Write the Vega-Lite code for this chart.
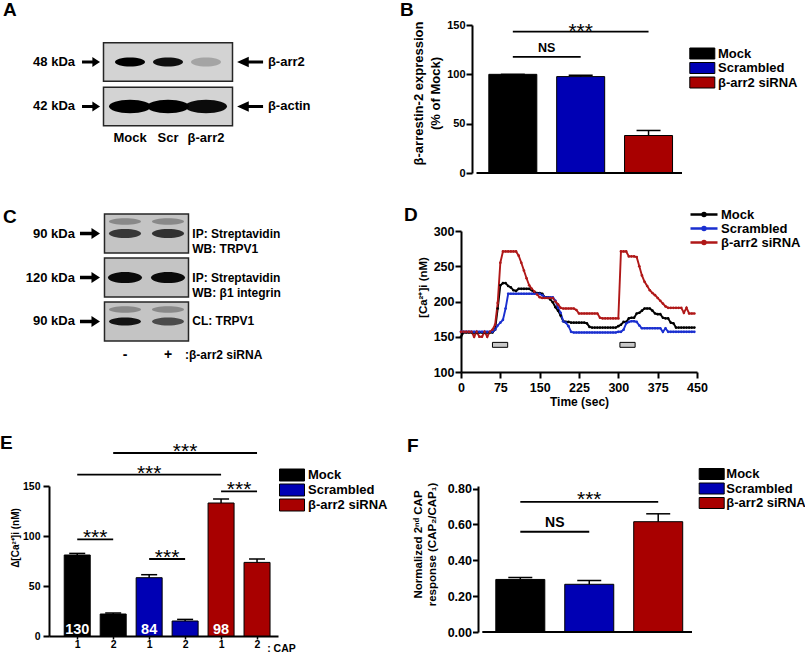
{
"$schema": "https://vega.github.io/schema/vega-lite/v6.json",
"background": "white",
"padding": {"left": 0, "top": 1, "right": 0, "bottom": 0},
"config": {
  "font": "Liberation Sans",
  "view": {"stroke": null},
  "axis": {"domainColor": "#000", "tickColor": "#000", "labelColor": "#000", "titleColor": "#000", "grid": false, "domainWidth": 2, "tickWidth": 2, "labelFlush": false, "labelOverlap": false, "titleFontWeight": "bold", "labelFontWeight": "bold"},
  "legend": {"labelColor": "#000", "padding": 0, "labelFontWeight": "bold"},
  "title": {"anchor": "start", "frame": "group", "fontSize": 19, "fontWeight": "bold", "color": "#000", "offset": 0, "baseline": "alphabetic"},
  "text": {"color": "#000", "fontWeight": "bold"}
},
"datasets": {
  "blotsA": [{"row": 1, "kda": "48 kDa", "protein": "β-arr2"}, {"row": 2, "kda": "42 kDa", "protein": "β-actin"}],
  "bandsA": [{"row": 1, "lane": 1, "intensity": 1}, {"row": 1, "lane": 2, "intensity": 0.93}, {"row": 1, "lane": 3, "intensity": 0.22}, {"row": 2, "lane": 1, "intensity": 1}, {"row": 2, "lane": 2, "intensity": 1}, {"row": 2, "lane": 3, "intensity": 0.95}],
  "lanesA": [{"lane": 1, "name": "Mock"}, {"lane": 2, "name": "Scr"}, {"lane": 3, "name": "β-arr2"}],
  "blotsC": [{"row": 1, "kda": "90 kDa", "probe": "IP:  Streptavidin\nWB:  TRPV1"}, {"row": 2, "kda": "120 kDa", "probe": "IP:  Streptavidin\nWB:  β1 integrin"}, {"row": 3, "kda": "90 kDa", "probe": "CL:  TRPV1"}],
  "bandsC": [{"row": 1, "lane": 1, "intensity": 0.72}, {"row": 1, "lane": 2, "intensity": 0.75}, {"row": 2, "lane": 1, "intensity": 0.95}, {"row": 2, "lane": 2, "intensity": 0.95}, {"row": 3, "lane": 1, "intensity": 0.9}, {"row": 3, "lane": 2, "intensity": 0.62}],
  "lanesC": [{"lane": 1, "name": "-"}, {"lane": 2, "name": "+"}],
  "barsB": [{"pos": 1, "group": "Mock", "mean": 100, "upper": 100}, {"pos": 2, "group": "Scrambled", "mean": 97.7, "upper": 99.1}, {"pos": 3, "group": "β-arr2 siRNA", "mean": 38, "upper": 43.1}],
  "sigB": [{"cmp": "b1", "pos": 1, "h": 117.6, "label": "NS"}, {"cmp": "b1", "pos": 2, "h": 117.6, "label": "NS"}, {"cmp": "b2", "pos": 1, "h": 143.2, "label": "***"}, {"cmp": "b2", "pos": 3, "h": 143.2, "label": "***"}],
  "capD": [{"start": 60, "end": 89}, {"start": 303, "end": 332}],
  "barsE": [{"pos": 1, "group": "Mock", "cap": 1, "mean": 81.0, "upper": 82.6, "n": "130"}, {"pos": 2, "group": "Mock", "cap": 2, "mean": 22.0, "upper": 23.0}, {"pos": 3, "group": "Scrambled", "cap": 1, "mean": 58.3, "upper": 61.3, "n": "84"}, {"pos": 4, "group": "Scrambled", "cap": 2, "mean": 15.0, "upper": 16.6}, {"pos": 5, "group": "β-arr2 siRNA", "cap": 1, "mean": 133.0, "upper": 137.0, "n": "98"}, {"pos": 6, "group": "β-arr2 siRNA", "cap": 2, "mean": 73.6, "upper": 77.0}],
  "sigE": [{"cmp": "e1", "pos": 2, "h": 183, "label": "***"}, {"cmp": "e1", "pos": 6, "h": 183, "label": "***"}, {"cmp": "e2", "pos": 1, "h": 161.3, "label": "***"}, {"cmp": "e2", "pos": 5, "h": 161.3, "label": "***"}, {"cmp": "e3", "pos": 5, "h": 144.6, "label": "***"}, {"cmp": "e3", "pos": 6, "h": 144.6, "label": "***"}, {"cmp": "e4", "pos": 1, "h": 96.6, "label": "***"}, {"cmp": "e4", "pos": 2, "h": 96.6, "label": "***"}, {"cmp": "e5", "pos": 3, "h": 77, "label": "***"}, {"cmp": "e5", "pos": 4, "h": 77, "label": "***"}],
  "barsF": [{"pos": 1, "group": "Mock", "mean": 0.293, "upper": 0.304}, {"pos": 2, "group": "Scrambled", "mean": 0.266, "upper": 0.287}, {"pos": 3, "group": "β-arr2 siRNA", "mean": 0.615, "upper": 0.659}],
  "sigF": [{"cmp": "f1", "pos": 1, "h": 0.559, "label": "NS"}, {"cmp": "f1", "pos": 2, "h": 0.559, "label": "NS"}, {"cmp": "f2", "pos": 1, "h": 0.726, "label": "***"}, {"cmp": "f2", "pos": 3, "h": 0.726, "label": "***"}],
  "lineD": [
{"series":"Mock","t":0,"ca":150},{"series":"Mock","t":5,"ca":156},{"series":"Mock","t":10,"ca":156},{"series":"Mock","t":15,"ca":156},{"series":"Mock","t":20,"ca":156},{"series":"Mock","t":25,"ca":156},{"series":"Mock","t":30,"ca":156},{"series":"Mock","t":35,"ca":156},{"series":"Mock","t":40,"ca":156},{"series":"Mock","t":45,"ca":156},{"series":"Mock","t":50,"ca":156},{"series":"Mock","t":55,"ca":156},{"series":"Mock","t":60,"ca":156},{"series":"Mock","t":65,"ca":160},{"series":"Mock","t":70,"ca":190},{"series":"Mock","t":75,"ca":223},{"series":"Mock","t":80,"ca":226},{"series":"Mock","t":85,"ca":226},{"series":"Mock","t":90,"ca":222},{"series":"Mock","t":95,"ca":220},{"series":"Mock","t":100,"ca":216},{"series":"Mock","t":105,"ca":215},{"series":"Mock","t":110,"ca":218},{"series":"Mock","t":115,"ca":218},{"series":"Mock","t":120,"ca":218},{"series":"Mock","t":125,"ca":218},{"series":"Mock","t":130,"ca":218},{"series":"Mock","t":135,"ca":216},{"series":"Mock","t":140,"ca":213},{"series":"Mock","t":145,"ca":212},{"series":"Mock","t":150,"ca":212},{"series":"Mock","t":155,"ca":211},{"series":"Mock","t":160,"ca":206},{"series":"Mock","t":165,"ca":206},{"series":"Mock","t":170,"ca":203},{"series":"Mock","t":175,"ca":199},{"series":"Mock","t":180,"ca":192},{"series":"Mock","t":185,"ca":187},{"series":"Mock","t":190,"ca":180},{"series":"Mock","t":195,"ca":172},{"series":"Mock","t":200,"ca":171},{"series":"Mock","t":205,"ca":171},{"series":"Mock","t":210,"ca":170},{"series":"Mock","t":215,"ca":170},{"series":"Mock","t":220,"ca":170},{"series":"Mock","t":225,"ca":170},{"series":"Mock","t":230,"ca":170},{"series":"Mock","t":235,"ca":170},{"series":"Mock","t":240,"ca":169},{"series":"Mock","t":245,"ca":164},{"series":"Mock","t":250,"ca":163},{"series":"Mock","t":255,"ca":163},{"series":"Mock","t":260,"ca":163},{"series":"Mock","t":265,"ca":163},{"series":"Mock","t":270,"ca":163},{"series":"Mock","t":275,"ca":163},{"series":"Mock","t":280,"ca":163},{"series":"Mock","t":285,"ca":163},{"series":"Mock","t":290,"ca":163},{"series":"Mock","t":295,"ca":163},{"series":"Mock","t":300,"ca":165},{"series":"Mock","t":305,"ca":167},{"series":"Mock","t":310,"ca":171},{"series":"Mock","t":315,"ca":171},{"series":"Mock","t":320,"ca":176},{"series":"Mock","t":325,"ca":177},{"series":"Mock","t":330,"ca":177},{"series":"Mock","t":335,"ca":183},{"series":"Mock","t":340,"ca":184},{"series":"Mock","t":345,"ca":187},{"series":"Mock","t":350,"ca":190},{"series":"Mock","t":355,"ca":190},{"series":"Mock","t":360,"ca":190},{"series":"Mock","t":365,"ca":187},{"series":"Mock","t":370,"ca":183},{"series":"Mock","t":375,"ca":182},{"series":"Mock","t":380,"ca":182},{"series":"Mock","t":385,"ca":177},{"series":"Mock","t":390,"ca":176},{"series":"Mock","t":395,"ca":176},{"series":"Mock","t":400,"ca":170},{"series":"Mock","t":405,"ca":169},{"series":"Mock","t":410,"ca":163},{"series":"Mock","t":415,"ca":163},{"series":"Mock","t":420,"ca":163},{"series":"Mock","t":425,"ca":163},{"series":"Mock","t":430,"ca":163},{"series":"Mock","t":435,"ca":163},{"series":"Mock","t":440,"ca":163},{"series":"Mock","t":445,"ca":163},
{"series":"Scrambled","t":0,"ca":157},{"series":"Scrambled","t":5,"ca":157},{"series":"Scrambled","t":10,"ca":157},{"series":"Scrambled","t":15,"ca":157},{"series":"Scrambled","t":20,"ca":157},{"series":"Scrambled","t":25,"ca":157},{"series":"Scrambled","t":30,"ca":157},{"series":"Scrambled","t":35,"ca":157},{"series":"Scrambled","t":40,"ca":157},{"series":"Scrambled","t":45,"ca":157},{"series":"Scrambled","t":50,"ca":157},{"series":"Scrambled","t":55,"ca":157},{"series":"Scrambled","t":60,"ca":157},{"series":"Scrambled","t":65,"ca":160},{"series":"Scrambled","t":70,"ca":166},{"series":"Scrambled","t":75,"ca":170},{"series":"Scrambled","t":80,"ca":174},{"series":"Scrambled","t":85,"ca":190},{"series":"Scrambled","t":90,"ca":211},{"series":"Scrambled","t":95,"ca":211},{"series":"Scrambled","t":100,"ca":211},{"series":"Scrambled","t":105,"ca":211},{"series":"Scrambled","t":110,"ca":211},{"series":"Scrambled","t":115,"ca":211},{"series":"Scrambled","t":120,"ca":211},{"series":"Scrambled","t":125,"ca":211},{"series":"Scrambled","t":130,"ca":211},{"series":"Scrambled","t":135,"ca":211},{"series":"Scrambled","t":140,"ca":211},{"series":"Scrambled","t":145,"ca":211},{"series":"Scrambled","t":150,"ca":211},{"series":"Scrambled","t":155,"ca":209},{"series":"Scrambled","t":160,"ca":206},{"series":"Scrambled","t":165,"ca":206},{"series":"Scrambled","t":170,"ca":206},{"series":"Scrambled","t":175,"ca":206},{"series":"Scrambled","t":180,"ca":201},{"series":"Scrambled","t":185,"ca":191},{"series":"Scrambled","t":190,"ca":184},{"series":"Scrambled","t":195,"ca":172},{"series":"Scrambled","t":200,"ca":170},{"series":"Scrambled","t":205,"ca":165},{"series":"Scrambled","t":210,"ca":157},{"series":"Scrambled","t":215,"ca":156},{"series":"Scrambled","t":220,"ca":156},{"series":"Scrambled","t":225,"ca":156},{"series":"Scrambled","t":230,"ca":156},{"series":"Scrambled","t":235,"ca":156},{"series":"Scrambled","t":240,"ca":156},{"series":"Scrambled","t":245,"ca":156},{"series":"Scrambled","t":250,"ca":156},{"series":"Scrambled","t":255,"ca":156},{"series":"Scrambled","t":260,"ca":156},{"series":"Scrambled","t":265,"ca":156},{"series":"Scrambled","t":270,"ca":156},{"series":"Scrambled","t":275,"ca":156},{"series":"Scrambled","t":280,"ca":156},{"series":"Scrambled","t":285,"ca":156},{"series":"Scrambled","t":290,"ca":156},{"series":"Scrambled","t":295,"ca":156},{"series":"Scrambled","t":300,"ca":157},{"series":"Scrambled","t":305,"ca":157},{"series":"Scrambled","t":310,"ca":160},{"series":"Scrambled","t":315,"ca":169},{"series":"Scrambled","t":320,"ca":171},{"series":"Scrambled","t":325,"ca":172},{"series":"Scrambled","t":330,"ca":172},{"series":"Scrambled","t":335,"ca":171},{"series":"Scrambled","t":340,"ca":166},{"series":"Scrambled","t":345,"ca":162},{"series":"Scrambled","t":350,"ca":162},{"series":"Scrambled","t":355,"ca":162},{"series":"Scrambled","t":360,"ca":162},{"series":"Scrambled","t":365,"ca":162},{"series":"Scrambled","t":370,"ca":162},{"series":"Scrambled","t":375,"ca":162},{"series":"Scrambled","t":380,"ca":162},{"series":"Scrambled","t":385,"ca":157},{"series":"Scrambled","t":390,"ca":162},{"series":"Scrambled","t":395,"ca":157},{"series":"Scrambled","t":400,"ca":157},{"series":"Scrambled","t":405,"ca":157},{"series":"Scrambled","t":410,"ca":157},{"series":"Scrambled","t":415,"ca":157},{"series":"Scrambled","t":420,"ca":157},{"series":"Scrambled","t":425,"ca":157},{"series":"Scrambled","t":430,"ca":157},{"series":"Scrambled","t":435,"ca":157},{"series":"Scrambled","t":440,"ca":157},{"series":"Scrambled","t":445,"ca":157},
{"series":"β-arr2 siRNA","t":0,"ca":157},{"series":"β-arr2 siRNA","t":5,"ca":157},{"series":"β-arr2 siRNA","t":10,"ca":157},{"series":"β-arr2 siRNA","t":15,"ca":157},{"series":"β-arr2 siRNA","t":20,"ca":157},{"series":"β-arr2 siRNA","t":25,"ca":150},{"series":"β-arr2 siRNA","t":30,"ca":157},{"series":"β-arr2 siRNA","t":35,"ca":150},{"series":"β-arr2 siRNA","t":40,"ca":150},{"series":"β-arr2 siRNA","t":45,"ca":157},{"series":"β-arr2 siRNA","t":50,"ca":150},{"series":"β-arr2 siRNA","t":55,"ca":157},{"series":"β-arr2 siRNA","t":60,"ca":160},{"series":"β-arr2 siRNA","t":65,"ca":167},{"series":"β-arr2 siRNA","t":70,"ca":198},{"series":"β-arr2 siRNA","t":75,"ca":255},{"series":"β-arr2 siRNA","t":80,"ca":271},{"series":"β-arr2 siRNA","t":85,"ca":271},{"series":"β-arr2 siRNA","t":90,"ca":271},{"series":"β-arr2 siRNA","t":95,"ca":271},{"series":"β-arr2 siRNA","t":100,"ca":271},{"series":"β-arr2 siRNA","t":105,"ca":271},{"series":"β-arr2 siRNA","t":110,"ca":265},{"series":"β-arr2 siRNA","t":115,"ca":255},{"series":"β-arr2 siRNA","t":120,"ca":244},{"series":"β-arr2 siRNA","t":125,"ca":233},{"series":"β-arr2 siRNA","t":130,"ca":223},{"series":"β-arr2 siRNA","t":135,"ca":218},{"series":"β-arr2 siRNA","t":140,"ca":214},{"series":"β-arr2 siRNA","t":145,"ca":210},{"series":"β-arr2 siRNA","t":150,"ca":206},{"series":"β-arr2 siRNA","t":155,"ca":205},{"series":"β-arr2 siRNA","t":160,"ca":205},{"series":"β-arr2 siRNA","t":165,"ca":205},{"series":"β-arr2 siRNA","t":170,"ca":205},{"series":"β-arr2 siRNA","t":175,"ca":205},{"series":"β-arr2 siRNA","t":180,"ca":200},{"series":"β-arr2 siRNA","t":185,"ca":196},{"series":"β-arr2 siRNA","t":190,"ca":191},{"series":"β-arr2 siRNA","t":195,"ca":190},{"series":"β-arr2 siRNA","t":200,"ca":190},{"series":"β-arr2 siRNA","t":205,"ca":190},{"series":"β-arr2 siRNA","t":210,"ca":190},{"series":"β-arr2 siRNA","t":215,"ca":190},{"series":"β-arr2 siRNA","t":220,"ca":188},{"series":"β-arr2 siRNA","t":225,"ca":183},{"series":"β-arr2 siRNA","t":230,"ca":183},{"series":"β-arr2 siRNA","t":235,"ca":183},{"series":"β-arr2 siRNA","t":240,"ca":183},{"series":"β-arr2 siRNA","t":245,"ca":183},{"series":"β-arr2 siRNA","t":250,"ca":183},{"series":"β-arr2 siRNA","t":255,"ca":183},{"series":"β-arr2 siRNA","t":260,"ca":183},{"series":"β-arr2 siRNA","t":265,"ca":177},{"series":"β-arr2 siRNA","t":270,"ca":176},{"series":"β-arr2 siRNA","t":275,"ca":176},{"series":"β-arr2 siRNA","t":280,"ca":176},{"series":"β-arr2 siRNA","t":285,"ca":176},{"series":"β-arr2 siRNA","t":290,"ca":176},{"series":"β-arr2 siRNA","t":295,"ca":176},{"series":"β-arr2 siRNA","t":300,"ca":176},{"series":"β-arr2 siRNA","t":305,"ca":271},{"series":"β-arr2 siRNA","t":310,"ca":271},{"series":"β-arr2 siRNA","t":315,"ca":271},{"series":"β-arr2 siRNA","t":320,"ca":264},{"series":"β-arr2 siRNA","t":325,"ca":264},{"series":"β-arr2 siRNA","t":330,"ca":264},{"series":"β-arr2 siRNA","t":335,"ca":263},{"series":"β-arr2 siRNA","t":340,"ca":250},{"series":"β-arr2 siRNA","t":345,"ca":237},{"series":"β-arr2 siRNA","t":350,"ca":228},{"series":"β-arr2 siRNA","t":355,"ca":222},{"series":"β-arr2 siRNA","t":360,"ca":216},{"series":"β-arr2 siRNA","t":365,"ca":212},{"series":"β-arr2 siRNA","t":370,"ca":209},{"series":"β-arr2 siRNA","t":375,"ca":205},{"series":"β-arr2 siRNA","t":380,"ca":201},{"series":"β-arr2 siRNA","t":385,"ca":197},{"series":"β-arr2 siRNA","t":390,"ca":193},{"series":"β-arr2 siRNA","t":395,"ca":191},{"series":"β-arr2 siRNA","t":400,"ca":191},{"series":"β-arr2 siRNA","t":405,"ca":191},{"series":"β-arr2 siRNA","t":410,"ca":191},{"series":"β-arr2 siRNA","t":415,"ca":191},{"series":"β-arr2 siRNA","t":420,"ca":191},{"series":"β-arr2 siRNA","t":425,"ca":184},{"series":"β-arr2 siRNA","t":430,"ca":191},{"series":"β-arr2 siRNA","t":435,"ca":183},{"series":"β-arr2 siRNA","t":440,"ca":183},{"series":"β-arr2 siRNA","t":445,"ca":183}
  ]
},
"columns": 2,
"bounds": "flush",
"align": "each",
"spacing": {"row": 0, "column": 183},
"resolve": {"scale": {"x": "independent", "y": "independent", "color": "independent", "opacity": "independent"}, "legend": {"color": "independent"}},
"concat": [
{
  "width": 229, "height": 206,
  "title": {"text": "A", "dx": -46, "dy": -1},
  "layer": [
    {"data": {"name": "blotsA"},
     "mark": {"type": "point", "shape": "M-3.225,-0.965L3.225,-0.965L3.225,0.965L-3.225,0.965Z", "size": 1600, "filled": true, "fill": "#d3d3d3", "stroke": "#262626", "strokeWidth": 1.5, "opacity": 1},
     "encoding": {
       "x": {"datum": 2, "type": "quantitative", "scale": {"domain": [-1.132, 4.895], "nice": false, "zero": false}, "axis": null},
       "y": {"field": "row", "type": "quantitative", "scale": {"domain": [0.169, 4.798], "nice": false, "zero": false, "reverse": true}, "axis": null}}},
    {"data": {"name": "bandsA"}, "transform": [{"filter": "datum.row == 1"}],
     "mark": {"type": "point", "shape": "M-1,0A1,0.3,0,1,0,1,0A1,0.3,0,1,0,-1,0Z", "size": 900, "filled": true, "fill": "#000", "strokeWidth": 0},
     "encoding": {"x": {"field": "lane", "type": "quantitative"}, "y": {"field": "row", "type": "quantitative"},
       "opacity": {"field": "intensity", "type": "quantitative", "scale": {"domain": [0, 1], "range": [0, 1]}, "legend": null}}},
    {"data": {"name": "bandsA"}, "transform": [{"filter": "datum.row == 2"}],
     "mark": {"type": "point", "shape": "M-1,0A1,0.32,0,1,0,1,0A1,0.32,0,1,0,-1,0Z", "size": 1764, "filled": true, "fill": "#000", "strokeWidth": 0},
     "encoding": {"x": {"field": "lane", "type": "quantitative"}, "y": {"field": "row", "type": "quantitative"},
       "opacity": {"field": "intensity", "type": "quantitative", "legend": null}}},
    {"data": {"name": "blotsA"},
     "mark": {"type": "point", "shape": "M-1,-0.17L0.15,-0.17L0.15,-0.55L1,0L0.15,0.55L0.15,0.17L-1,0.17Z", "size": 324, "filled": true, "fill": "#000", "opacity": 1},
     "encoding": {"x": {"datum": -0.026, "type": "quantitative"}, "y": {"field": "row", "type": "quantitative"}}},
    {"data": {"name": "blotsA"},
     "mark": {"type": "point", "shape": "M1,-0.12L-0.1,-0.12L-0.1,-0.4L-1,0L-0.1,0.4L-0.1,0.12L1,0.12Z", "size": 676, "filled": true, "fill": "#000", "opacity": 1},
     "encoding": {"x": {"datum": 4.16, "type": "quantitative"}, "y": {"field": "row", "type": "quantitative"}}},
    {"data": {"name": "blotsA"},
     "mark": {"type": "text", "align": "right", "baseline": "middle", "fontSize": 13},
     "encoding": {"x": {"datum": -0.447, "type": "quantitative"}, "y": {"field": "row", "type": "quantitative"}, "text": {"field": "kda"}}},
    {"data": {"name": "blotsA"},
     "mark": {"type": "text", "align": "left", "baseline": "middle", "fontSize": 13},
     "encoding": {"x": {"datum": 4.63, "type": "quantitative"}, "y": {"field": "row", "type": "quantitative"}, "text": {"field": "protein"}}},
    {"data": {"name": "lanesA"},
     "mark": {"type": "text", "align": "center", "baseline": "middle", "fontSize": 13},
     "encoding": {"x": {"field": "lane", "type": "quantitative"}, "y": {"datum": 2.708, "type": "quantitative"}, "text": {"field": "name"}}}
  ]
},
{
  "width": 226, "height": 148,
  "title": {"text": "B", "dx": -61, "dy": 5},
  "layer": [
    {"data": {"name": "barsB"},
     "mark": {"type": "bar", "width": 48, "stroke": "#000", "strokeWidth": 1, "orient": "vertical"},
     "encoding": {
       "x": {"field": "pos", "type": "quantitative", "scale": {"domain": [0.31, 3.493], "nice": false, "zero": false}, "axis": null},
       "y": {"field": "mean", "type": "quantitative", "stack": null, "scale": {"domain": [0, 150], "nice": false},
             "axis": {"values": [0, 50, 100, 150], "tickCount": 20, "labelOverlap": false, "offset": -11, "title": ["β-arrestin-2 expression", "(% of Mock)"], "titleY": 68, "titleFontSize": 13, "titleLineHeight": 17, "titlePadding": 4, "labelFontSize": 11, "labelPadding": 1, "tickSize": 6}},
       "color": {"field": "group", "type": "nominal", "scale": {"domain": ["Mock", "Scrambled", "β-arr2 siRNA"], "range": ["#000000", "#0000b4", "#a80000"]},
                 "legend": {"orient": "none", "legendX": 234.8, "legendY": 22, "title": null, "symbolType": "M-2.5,-1.1L2.5,-1.1L2.5,1.1L-2.5,1.1Z", "symbolSize": 100, "symbolStrokeColor": "#000", "symbolStrokeWidth": 1, "labelFontSize": 13, "labelOffset": 9.2, "rowPadding": -0.5}}}},
    {"data": {"name": "barsB"}, "mark": {"type": "rule", "color": "#000", "strokeWidth": 1.5},
     "encoding": {"x": {"field": "pos", "type": "quantitative"}, "y": {"field": "mean", "type": "quantitative"}, "y2": {"field": "upper"}}},
    {"data": {"name": "barsB"}, "mark": {"type": "tick", "orient": "horizontal", "size": 24, "thickness": 1.5, "color": "#000", "opacity": 1},
     "encoding": {"x": {"field": "pos", "type": "quantitative"}, "y": {"field": "upper", "type": "quantitative"}}},
    {"data": {"values": [{}]}, "mark": {"type": "rule", "color": "#000", "strokeWidth": 2},
     "encoding": {"x": {"datum": 0.465, "type": "quantitative"}, "x2": {"datum": 3.493}, "y": {"datum": 0, "type": "quantitative"}}},
    {"data": {"name": "sigB"}, "mark": {"type": "rule", "color": "#000", "strokeWidth": 1.8},
     "encoding": {"x": {"aggregate": "min", "field": "pos", "type": "quantitative"}, "x2": {"aggregate": "max", "field": "pos"}, "y": {"field": "h", "type": "quantitative"}, "detail": {"field": "cmp"}}},
    {"data": {"name": "sigB"}, "transform": [{"filter": "datum.label == '***'"}], "mark": {"type": "text", "fontSize": 21, "fontWeight": "normal", "baseline": "alphabetic", "dy": 6.5},
     "encoding": {"x": {"aggregate": "mean", "field": "pos", "type": "quantitative"}, "y": {"field": "h", "type": "quantitative"}, "text": {"field": "label"}}},
    {"data": {"name": "sigB"}, "transform": [{"filter": "datum.label == 'NS'"}], "mark": {"type": "text", "fontSize": 12.5, "baseline": "alphabetic", "dy": -4.7},
     "encoding": {"x": {"aggregate": "mean", "field": "pos", "type": "quantitative"}, "y": {"field": "h", "type": "quantitative"}, "text": {"field": "label"}}}
  ]
},
{
  "width": 229, "height": 255,
  "title": {"text": "C", "dx": -46, "dy": 20},
  "layer": [
    {"data": {"name": "blotsC"},
     "mark": {"type": "point", "shape": "M-2.1,-0.975L2.1,-0.975L2.1,0.975L-2.1,0.975Z", "size": 1600, "filled": true, "fill": "#c4c4c4", "stroke": "#262626", "strokeWidth": 1.5, "opacity": 1},
     "encoding": {
       "x": {"datum": 1.5, "type": "quantitative", "scale": {"domain": [-0.767, 4.558], "nice": false, "zero": false}, "axis": null},
       "y": {"field": "row", "type": "quantitative", "scale": {"domain": [0.943, 6.739], "nice": false, "zero": false, "reverse": true}, "axis": null}}},
    {"data": {"name": "bandsC"}, "transform": [{"filter": "datum.row != 2"}],
     "mark": {"type": "point", "shape": "M-1,0A1,0.2,0,1,0,1,0A1,0.2,0,1,0,-1,0Z", "size": 1024, "filled": true, "fill": "#000", "strokeWidth": 0, "opacity": 0.3, "yOffset": -12},
     "encoding": {"x": {"field": "lane", "type": "quantitative"}, "y": {"field": "row", "type": "quantitative"}}},
    {"data": {"name": "bandsC"}, "transform": [{"filter": "datum.row == 1"}],
     "mark": {"type": "point", "shape": "M-1,0A1,0.28,0,1,0,1,0A1,0.28,0,1,0,-1,0Z", "size": 1024, "filled": true, "fill": "#000", "strokeWidth": 0},
     "encoding": {"x": {"field": "lane", "type": "quantitative"}, "y": {"field": "row", "type": "quantitative"},
       "opacity": {"field": "intensity", "type": "quantitative", "scale": {"domain": [0, 1], "range": [0, 1]}, "legend": null}}},
    {"data": {"name": "bandsC"}, "transform": [{"filter": "datum.row == 2"}],
     "mark": {"type": "point", "shape": "M-1,0A1,0.33,0,1,0,1,0A1,0.33,0,1,0,-1,0Z", "size": 1156, "filled": true, "fill": "#000", "strokeWidth": 0},
     "encoding": {"x": {"field": "lane", "type": "quantitative"}, "y": {"field": "row", "type": "quantitative"},
       "opacity": {"field": "intensity", "type": "quantitative", "legend": null}}},
    {"data": {"name": "bandsC"}, "transform": [{"filter": "datum.row == 3"}],
     "mark": {"type": "point", "shape": "M-1,0A1,0.25,0,1,0,1,0A1,0.25,0,1,0,-1,0Z", "size": 1024, "filled": true, "fill": "#000", "strokeWidth": 0},
     "encoding": {"x": {"field": "lane", "type": "quantitative"}, "y": {"field": "row", "type": "quantitative"},
       "opacity": {"field": "intensity", "type": "quantitative", "legend": null}}},
    {"data": {"name": "blotsC"},
     "mark": {"type": "point", "shape": "M-1,-0.17L0.15,-0.17L0.15,-0.55L1,0L0.15,0.55L0.15,0.17L-1,0.17Z", "size": 400, "filled": true, "fill": "#000", "opacity": 1},
     "encoding": {"x": {"datum": 0.186, "type": "quantitative"}, "y": {"field": "row", "type": "quantitative"}}},
    {"data": {"name": "blotsC"},
     "mark": {"type": "text", "align": "right", "baseline": "middle", "fontSize": 13},
     "encoding": {"x": {"datum": -0.163, "type": "quantitative"}, "y": {"field": "row", "type": "quantitative"}, "text": {"field": "kda"}}},
    {"data": {"name": "blotsC"},
     "mark": {"type": "text", "align": "left", "baseline": "middle", "fontSize": 12, "lineBreak": "\n", "lineHeight": 15},
     "encoding": {"x": {"datum": 2.565, "type": "quantitative"}, "y": {"field": "row", "type": "quantitative"}, "text": {"field": "probe"}}},
    {"data": {"name": "lanesC"},
     "mark": {"type": "text", "align": "center", "baseline": "middle", "fontSize": 14},
     "encoding": {"x": {"field": "lane", "type": "quantitative"}, "y": {"datum": 3.761, "type": "quantitative"}, "text": {"field": "name"}}},
    {"data": {"values": [{"label": ":β-arr2 siRNA"}]},
     "mark": {"type": "text", "align": "left", "baseline": "middle", "fontSize": 12},
     "encoding": {"x": {"datum": 2.395, "type": "quantitative"}, "y": {"datum": 3.761, "type": "quantitative"}, "text": {"field": "label"}}}
  ]
},
{
  "width": 236, "height": 141,
  "title": {"text": "D", "dx": -57, "dy": 21},
  "layer": [
    {"data": {"name": "capD"},
     "mark": {"type": "rect", "fill": "#c8c8c8", "stroke": "#000", "strokeWidth": 1},
     "encoding": {
       "x": {"field": "start", "type": "quantitative", "scale": {"domain": [0, 450], "nice": false, "zero": false},
             "axis": {"values": [0, 75, 150, 225, 300, 375, 450], "tickCount": 20, "labelOverlap": false, "title": "Time (sec)", "titleFontSize": 12, "titlePadding": 3, "labelFontSize": 12.5, "labelPadding": 3, "tickSize": 6}},
       "x2": {"field": "end"},
       "y": {"datum": 135, "type": "quantitative", "scale": {"domain": [100, 300], "nice": false, "zero": false},
             "axis": {"values": [100, 150, 200, 250, 300], "tickCount": 20, "labelOverlap": false, "title": "[Ca²⁺]i (nM)", "titleY": 56, "titleFontSize": 11.5, "titlePadding": 5, "labelFontSize": 12.5, "labelPadding": 1, "tickSize": 6}},
       "y2": {"datum": 142}}},
    {"data": {"name": "lineD"},
     "mark": {"type": "line", "strokeWidth": 1.9},
     "encoding": {
       "x": {"field": "t", "type": "quantitative"},
       "y": {"field": "ca", "type": "quantitative"},
       "order": {"field": "t"},
       "color": {"field": "series", "type": "nominal", "scale": {"domain": ["Mock", "Scrambled", "β-arr2 siRNA"], "range": ["#000000", "#1a2fd0", "#b01818"]},
                 "legend": {"orient": "none", "legendX": 236.5, "legendY": -23, "title": null, "symbolType": "M-2.7,0L2.7,0M0.3,0A0.3,0.3,0,1,1,-0.3,0A0.3,0.3,0,1,1,0.3,0", "symbolSize": 100, "symbolStrokeWidth": 2.5, "labelFontSize": 13, "labelOffset": 10.5, "rowPadding": -1.5}}}},
    {"data": {"name": "lineD"},
     "mark": {"type": "point", "filled": true, "size": 7, "opacity": 1},
     "encoding": {
       "x": {"field": "t", "type": "quantitative"},
       "y": {"field": "ca", "type": "quantitative"},
       "color": {"field": "series", "type": "nominal"}}}
  ]
},
{
  "width": 229, "height": 150,
  "title": {"text": "E", "dx": -49, "dy": 16},
  "layer": [
    {"data": {"name": "barsE"},
     "mark": {"type": "bar", "width": 26, "stroke": "#000", "strokeWidth": 1, "orient": "vertical"},
     "encoding": {
       "x": {"field": "pos", "type": "quantitative", "scale": {"domain": [0.354, 6.444], "nice": false, "zero": false},
             "axis": {"values": [1, 2, 3, 4, 5, 6], "tickCount": 20, "labelOverlap": false, "labelExpr": "datum.value % 2 == 1 ? '1' : '2'", "title": ": CAP", "titleX": 217.7, "titleY": 15.7, "titleAlign": "left", "titleBaseline": "alphabetic", "titleFontSize": 10.5, "labelFontSize": 10.5, "labelPadding": 0, "tickSize": 3, "tickWidth": 1.5}},
       "y": {"field": "mean", "type": "quantitative", "stack": null, "scale": {"domain": [0, 150], "nice": false},
             "axis": {"values": [0, 50, 100, 150], "tickCount": 20, "labelOverlap": false, "title": "Δ[Ca²⁺]i (nM)", "titleY": 51.5, "titleFontSize": 10, "titlePadding": 2, "labelFontSize": 10.5, "labelPadding": 3, "tickSize": 6}},
       "color": {"field": "group", "type": "nominal", "scale": {"domain": ["Mock", "Scrambled", "β-arr2 siRNA"], "range": ["#000000", "#0000b4", "#a80000"]},
                 "legend": {"orient": "none", "legendX": 236.5, "legendY": -17.5, "title": null, "symbolType": "M-2.5,-1.2L2.5,-1.2L2.5,1.2L-2.5,1.2Z", "symbolSize": 100, "symbolStrokeColor": "#000", "symbolStrokeWidth": 1, "labelFontSize": 13, "labelOffset": 9.5, "rowPadding": -3}}}},
    {"data": {"name": "barsE"}, "mark": {"type": "rule", "color": "#000", "strokeWidth": 1.5},
     "encoding": {"x": {"field": "pos", "type": "quantitative"}, "y": {"field": "mean", "type": "quantitative"}, "y2": {"field": "upper"}}},
    {"data": {"name": "barsE"}, "mark": {"type": "tick", "orient": "horizontal", "size": 16, "thickness": 1.5, "color": "#000", "opacity": 1},
     "encoding": {"x": {"field": "pos", "type": "quantitative"}, "y": {"field": "upper", "type": "quantitative"}}},
    {"data": {"name": "barsE"}, "transform": [{"filter": "datum.n != null"}],
     "mark": {"type": "text", "color": "white", "fontSize": 14.5, "fontWeight": "bold", "baseline": "alphabetic", "dy": -2.5},
     "encoding": {"x": {"field": "pos", "type": "quantitative"}, "y": {"datum": 0, "type": "quantitative"}, "text": {"field": "n"}}},
    {"data": {"name": "sigE"}, "mark": {"type": "rule", "color": "#000", "strokeWidth": 1.8},
     "encoding": {"x": {"aggregate": "min", "field": "pos", "type": "quantitative"}, "x2": {"aggregate": "max", "field": "pos"}, "y": {"field": "h", "type": "quantitative"}, "detail": {"field": "cmp"}}},
    {"data": {"name": "sigE"}, "mark": {"type": "text", "fontSize": 21, "fontWeight": "normal", "baseline": "alphabetic", "dy": 5},
     "encoding": {"x": {"aggregate": "mean", "field": "pos", "type": "quantitative"}, "y": {"field": "h", "type": "quantitative"}, "text": {"field": "label"}, "detail": {"field": "cmp"}}}
  ]
},
{
  "width": 236, "height": 146,
  "title": {"text": "F", "dx": -54, "dy": -8},
  "layer": [
    {"data": {"name": "barsF"},
     "mark": {"type": "bar", "width": 49, "stroke": "#000", "strokeWidth": 1, "orient": "vertical"},
     "encoding": {
       "x": {"field": "pos", "type": "quantitative", "scale": {"domain": [0.2125, 3.49], "nice": false, "zero": false}, "axis": null},
       "y": {"field": "mean", "type": "quantitative", "stack": null, "scale": {"domain": [0, 0.814], "nice": false},
             "axis": {"values": [0, 0.2, 0.4, 0.6, 0.8], "tickCount": 20, "labelOverlap": false, "format": ".2f", "offset": -17, "title": ["Normalized 2ⁿᵈ CAP", "response (CAP₂/CAP₁)"], "titleY": 58, "titleFontSize": 11.5, "titleLineHeight": 14, "titlePadding": 10, "labelFontSize": 12.5, "labelPadding": 1, "tickSize": 5.5}},
       "color": {"field": "group", "type": "nominal", "scale": {"domain": ["Mock", "Scrambled", "β-arr2 siRNA"], "range": ["#000000", "#0000b4", "#a80000"]},
                 "legend": {"orient": "none", "legendX": 244.2, "legendY": -18.5, "title": null, "symbolType": "M-2.5,-1.1L2.5,-1.1L2.5,1.1L-2.5,1.1Z", "symbolSize": 100, "symbolStrokeColor": "#000", "symbolStrokeWidth": 1, "labelFontSize": 13, "labelOffset": 8.1, "rowPadding": -0.5}}}},
    {"data": {"name": "barsF"}, "mark": {"type": "rule", "color": "#000", "strokeWidth": 1.5},
     "encoding": {"x": {"field": "pos", "type": "quantitative"}, "y": {"field": "mean", "type": "quantitative"}, "y2": {"field": "upper"}}},
    {"data": {"name": "barsF"}, "mark": {"type": "tick", "orient": "horizontal", "size": 24, "thickness": 1.5, "color": "#000", "opacity": 1},
     "encoding": {"x": {"field": "pos", "type": "quantitative"}, "y": {"field": "upper", "type": "quantitative"}}},
    {"data": {"values": [{}]}, "mark": {"type": "rule", "color": "#000", "strokeWidth": 2},
     "encoding": {"x": {"datum": 0.449, "type": "quantitative"}, "x2": {"datum": 3.49}, "y": {"datum": 0, "type": "quantitative"}}},
    {"data": {"name": "sigF"}, "mark": {"type": "rule", "color": "#000", "strokeWidth": 1.8},
     "encoding": {"x": {"aggregate": "min", "field": "pos", "type": "quantitative"}, "x2": {"aggregate": "max", "field": "pos"}, "y": {"field": "h", "type": "quantitative"}, "detail": {"field": "cmp"}}},
    {"data": {"name": "sigF"}, "transform": [{"filter": "datum.label == '***'"}], "mark": {"type": "text", "fontSize": 21, "fontWeight": "normal", "baseline": "alphabetic", "dy": 4.5},
     "encoding": {"x": {"aggregate": "mean", "field": "pos", "type": "quantitative"}, "y": {"field": "h", "type": "quantitative"}, "text": {"field": "label"}}},
    {"data": {"name": "sigF"}, "transform": [{"filter": "datum.label == 'NS'"}], "mark": {"type": "text", "fontSize": 14, "baseline": "alphabetic", "dy": -4.4},
     "encoding": {"x": {"aggregate": "mean", "field": "pos", "type": "quantitative"}, "y": {"field": "h", "type": "quantitative"}, "text": {"field": "label"}}}
  ]
}
]
}
